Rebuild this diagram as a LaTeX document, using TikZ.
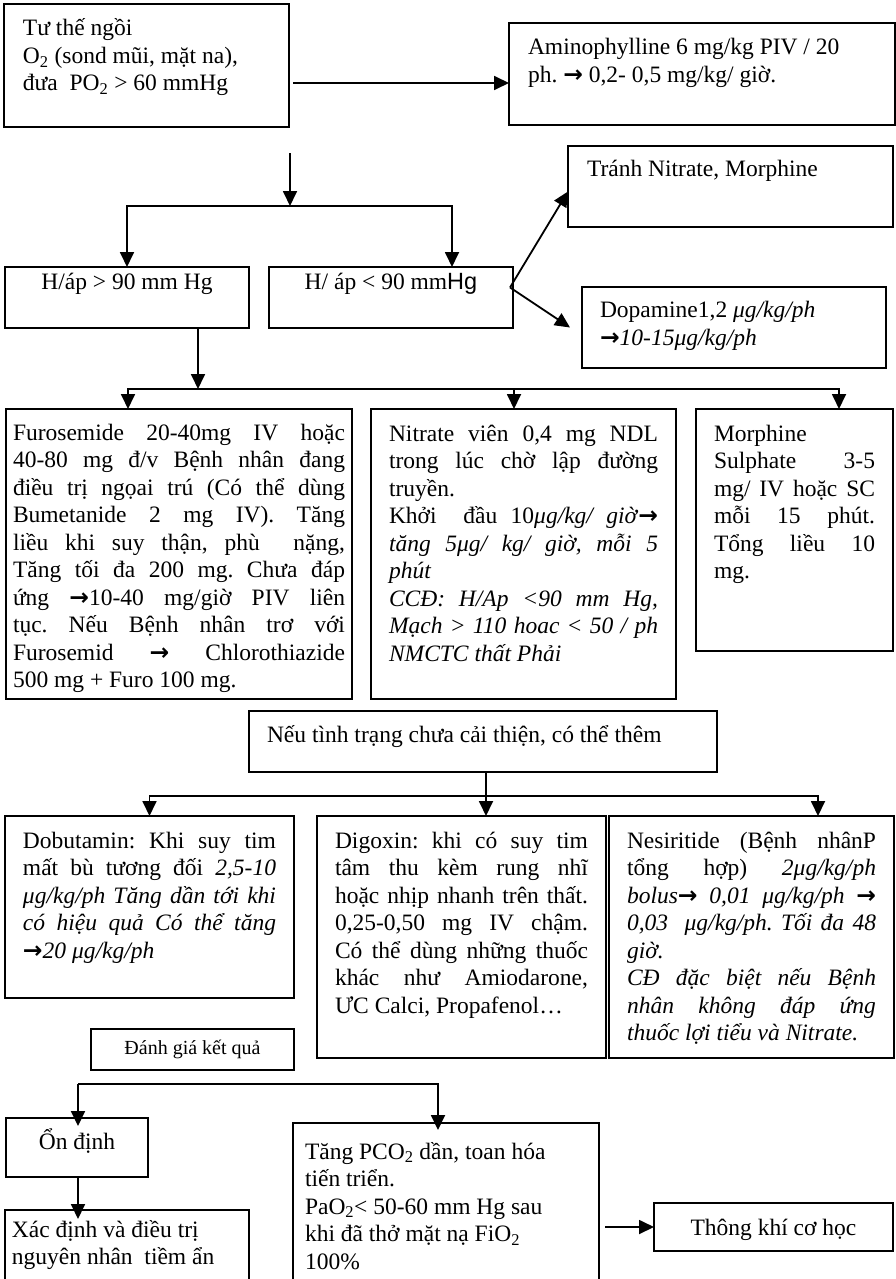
\documentclass[tikz,border=0pt]{standalone}
\usepackage{fontspec}
\setmainfont{Liberation Serif}
\setsansfont{Liberation Sans}
\newfontfamily\arrowfont{DejaVu Sans}
\usetikzlibrary{arrows.meta}
% one justified line inside a box
\newcommand{\jl}[1]{\makebox[\linewidth][s]{#1}\\}
% heavy arrow sign in the text
\newcommand{\ra}{{\arrowfont\bfseries\upshape →}}
\frenchspacing

\begin{document}
\begin{tikzpicture}[x=1pt, y=-1pt, >={Triangle[length=15pt,width=14pt]},
    block/.style={draw, line width=1.5pt, anchor=north west, outer sep=0pt, inner xsep=18pt, inner ysep=12.75pt, font=\fontsize{23.5}{27.5}\selectfont},
    arrow/.style={->, line width=1.8pt}]
    \useasboundingbox (0,0) rectangle (896,1279);
    \clip (0,0) rectangle (896,1279);
    \fill[white] (0,0) rectangle (896,1279);

    % first row
    \node[block, inner xsep=19pt, inner ysep=12.6pt] (start) at (4,4) {\parbox[t][97.8pt][t]{247pt}{\strut Tư thế ngồi\\
        O\textsubscript{2} (sond mũi, mặt na),\\
        đưa\ \ PO\textsubscript{2} > 60 mmHg}};
    \node[block, inner xsep=19pt, inner ysep=12.6pt] (amino) at (509,23) {\parbox[t][76.8pt][t]{348pt}{\strut Aminophylline 6 mg/kg PIV / 20\\
        ph. \ra{} 0,2- 0,5 mg/kg/ giờ.}};
    \node[block, inner xsep=19pt, inner ysep=11.6pt] (avoid) at (568,146) {\parbox[t][57.8pt][t]{287pt}{\strut Tránh Nitrate, Morphine}};

    % blood pressure
    \node[block, inner xsep=5pt, inner ysep=3pt] (hi) at (5,267) {\parbox[t][55pt][t]{234pt}{\centering\strut H/áp > 90 mm Hg}};
    \node[block, inner xsep=5pt, inner ysep=3pt] (lo) at (269,267) {\parbox[t][55pt][t]{234pt}{\centering\strut H/ áp < 90 mm{\sffamily Hg}}};
    \node[block, inner ysep=11.6pt] (dopa) at (582,287) {\parbox[t][57.8pt][t]{268pt}{\strut Dopamine1,2 \textit{μg/kg/ph}\\
        \ra\textit{10-15μg/kg/ph}}};

    % drugs
    \node[block, inner xsep=7pt, inner ysep=12pt] (furo) at (6,409) {\parbox[t][266pt][t]{332pt}{\strut\jl{Furosemide 20-40mg IV hoặc}
        \jl{40-80 mg đ/v Bệnh nhân đang}
        \jl{điều trị ngọai trú (Có thể dùng}
        \jl{Bumetanide 2 mg IV). Tăng}
        \jl{liều khi suy thận, phù\ \ nặng,}
        \jl{Tăng tối đa 200 mg. Chưa đáp}
        \jl{ứng \ra10-40 mg/giờ PIV liên}
        \jl{tục. Nếu Bệnh nhân trơ với}
        \jl{Furosemid \ra{} Chlorothiazide}
        500 mg + Furo 100 mg.}};
    \node[block, inner ysep=13pt] (nitr) at (371,409) {\parbox[t][264pt][t]{269pt}{\strut\jl{Nitrate viên 0,4 mg NDL}
        \jl{trong lúc chờ lập đường}
        truyền.\\
        \jl{Khởi\ \ đầu 10\textit{μg/kg/ giờ}\ra}
        \jl{\textit{tăng 5μg/ kg/ giờ, mỗi 5}}
        \textit{phút}\\
        \jl{\textit{CCĐ: H/Ap <90 mm Hg,}}
        \jl{\textit{Mạch > 110 hoac < 50 / ph}}
        \textit{NMCTC thất Phải}}};
    \node[block, inner ysep=13pt] (morph) at (696,409) {\parbox[t][216pt][t]{161pt}{\strut Morphine\\
        \jl{Sulphate 3-5}
        \jl{mg/ IV hoặc SC}
        \jl{mỗi 15 phút.}
        \jl{Tổng liều 10}
        mg.}};

    \node[block, inner ysep=11.75pt] (more) at (249,711) {\parbox[t][37.5pt][t]{432pt}{\strut Nếu tình trạng chưa cải thiện, có thể thêm}};

    % added drugs
    \node[block] (dobu) at (5,816) {\parbox[t][156.5pt][t]{253pt}{\strut\jl{Dobutamin: Khi suy tim}
        \jl{mất bù tương đối \textit{2,5-10}}
        \jl{\textit{μg/kg/ph Tăng dần tới khi}}
        \jl{\textit{có hiệu quả Có thể tăng}}
        \ra\textit{20 μg/kg/ph}}};
    \node[block] (digo) at (317,816) {\parbox[t][216.5pt][t]{253pt}{\strut\jl{Digoxin: khi có suy tim}
        \jl{tâm thu kèm rung nhĩ}
        \jl{hoặc nhịp nhanh trên thất.}
        \jl{0,25-0,50 mg IV chậm.}
        \jl{Có thể dùng những thuốc}
        \jl{khác như Amiodarone,}
        ƯC Calci, Propafenol…}};
    \node[block] (nesi) at (609,816) {\parbox[t][216.5pt][t]{249pt}{\strut\jl{Nesiritide (Bệnh nhânP}
        \jl{tổng hợp) \textit{2μg/kg/ph}}
        \jl{\textit{bolus}\ra\textit{ 0,01 μg/kg/ph} \ra}
        \jl{\textit{0,03\ \ μg/kg/ph. Tối đa 48}}
        \textit{giờ.}\\
        \jl{\textit{CĐ đặc biệt nếu Bệnh}}
        \jl{\textit{nhân không đáp ứng}}
        \textit{thuốc lợi tiểu và Nitrate.}}};

    % evaluation
    \node[block, inner xsep=5pt, inner ysep=9.5pt, font=\fontsize{20}{23.5}\selectfont] (eval) at (91,1029) {\parbox[t][22pt][t]{193pt}{\centering\strut Đánh giá kết quả}};
    \node[block, inner xsep=5pt, inner ysep=10.75pt] (stab) at (6,1118) {\parbox[t][37.5pt][t]{132pt}{\centering\strut Ổn định}};
    \node[block, inner xsep=7pt, inner ysep=7.75pt] (cause) at (5,1210) {\parbox[t][64.5pt][t]{230pt}{\strut Xác định và điều trị\\
        nguyên nhân\ \ tiềm ẩn}};
    \node[block, inner xsep=12pt, inner ysep=16.75pt] (worse) at (293,1123) {\parbox[t][133.5pt][t]{282pt}{\strut Tăng PCO\textsubscript{2} dần, toan hóa\\
        tiến triển.\\
        PaO\textsubscript{2}< 50-60 mm Hg sau\\
        khi đã thở mặt nạ FiO\textsubscript{2}\\
        100\%}};
    \node[block, inner xsep=5pt, inner ysep=12.75pt] (vent) at (654,1203) {\parbox[t][22.5pt][t]{229pt}{\centering\strut Thông khí cơ học}};

    % connectors
    \coordinate (ami-in) at ([yshift=-9pt]amino.west);
    \draw[arrow, shorten <=4pt] (start.east |- ami-in) -- (ami-in);
    \coordinate (split1) at ([xshift=1pt,yshift=-79pt]start.south east);
    \draw[arrow] ([xshift=1pt,yshift=-26pt]start.south east) -- (split1);
    \draw[arrow] (split1) -| (hi.north);
    \draw[arrow] (split1) -| ([xshift=61pt]lo.north);

    \coordinate (fork) at ([xshift=-3pt,yshift=10pt]lo.east);
    \draw[arrow] (fork) -- ([yshift=-5pt]avoid.west);
    \draw[arrow] (fork) -- ([xshift=-12pt]dopa.west);

    \coordinate (split2) at ([xshift=71pt,yshift=-61pt]hi.south);
    \draw[arrow] ([xshift=71pt]hi.south) -- (split2);
    \draw[arrow] (split2) -| ([xshift=-51pt]furo.north);
    \draw[arrow] (split2) -| ([xshift=-9.5pt]nitr.north);
    \draw[arrow] (split2) -| ([xshift=44.5pt]morph.north);

    \coordinate (split3) at ([xshift=3pt,yshift=-24pt]more.south);
    \draw[arrow] ([xshift=3pt]more.south) -- ([xshift=24.5pt]digo.north);
    \draw[arrow] (split3) -| (dobu.north);
    \draw[arrow] (split3) -| ([xshift=66.5pt]nesi.north);

    \coordinate (split4) at ([xshift=1pt,yshift=34pt]stab.north);
    \draw[arrow, shorten >=-8pt] (split4) -- (split4 |- stab.north);
    \draw[arrow, shorten >=-7pt] (split4) -| ([xshift=-8pt]worse.north);
    \draw[arrow, shorten >=-9pt] (split4 |- stab.south) -- (split4 |- cause.north);
    \draw[arrow, shorten <=6pt] (worse.east |- vent.west) -- (vent.west);
\end{tikzpicture}
\end{document}
